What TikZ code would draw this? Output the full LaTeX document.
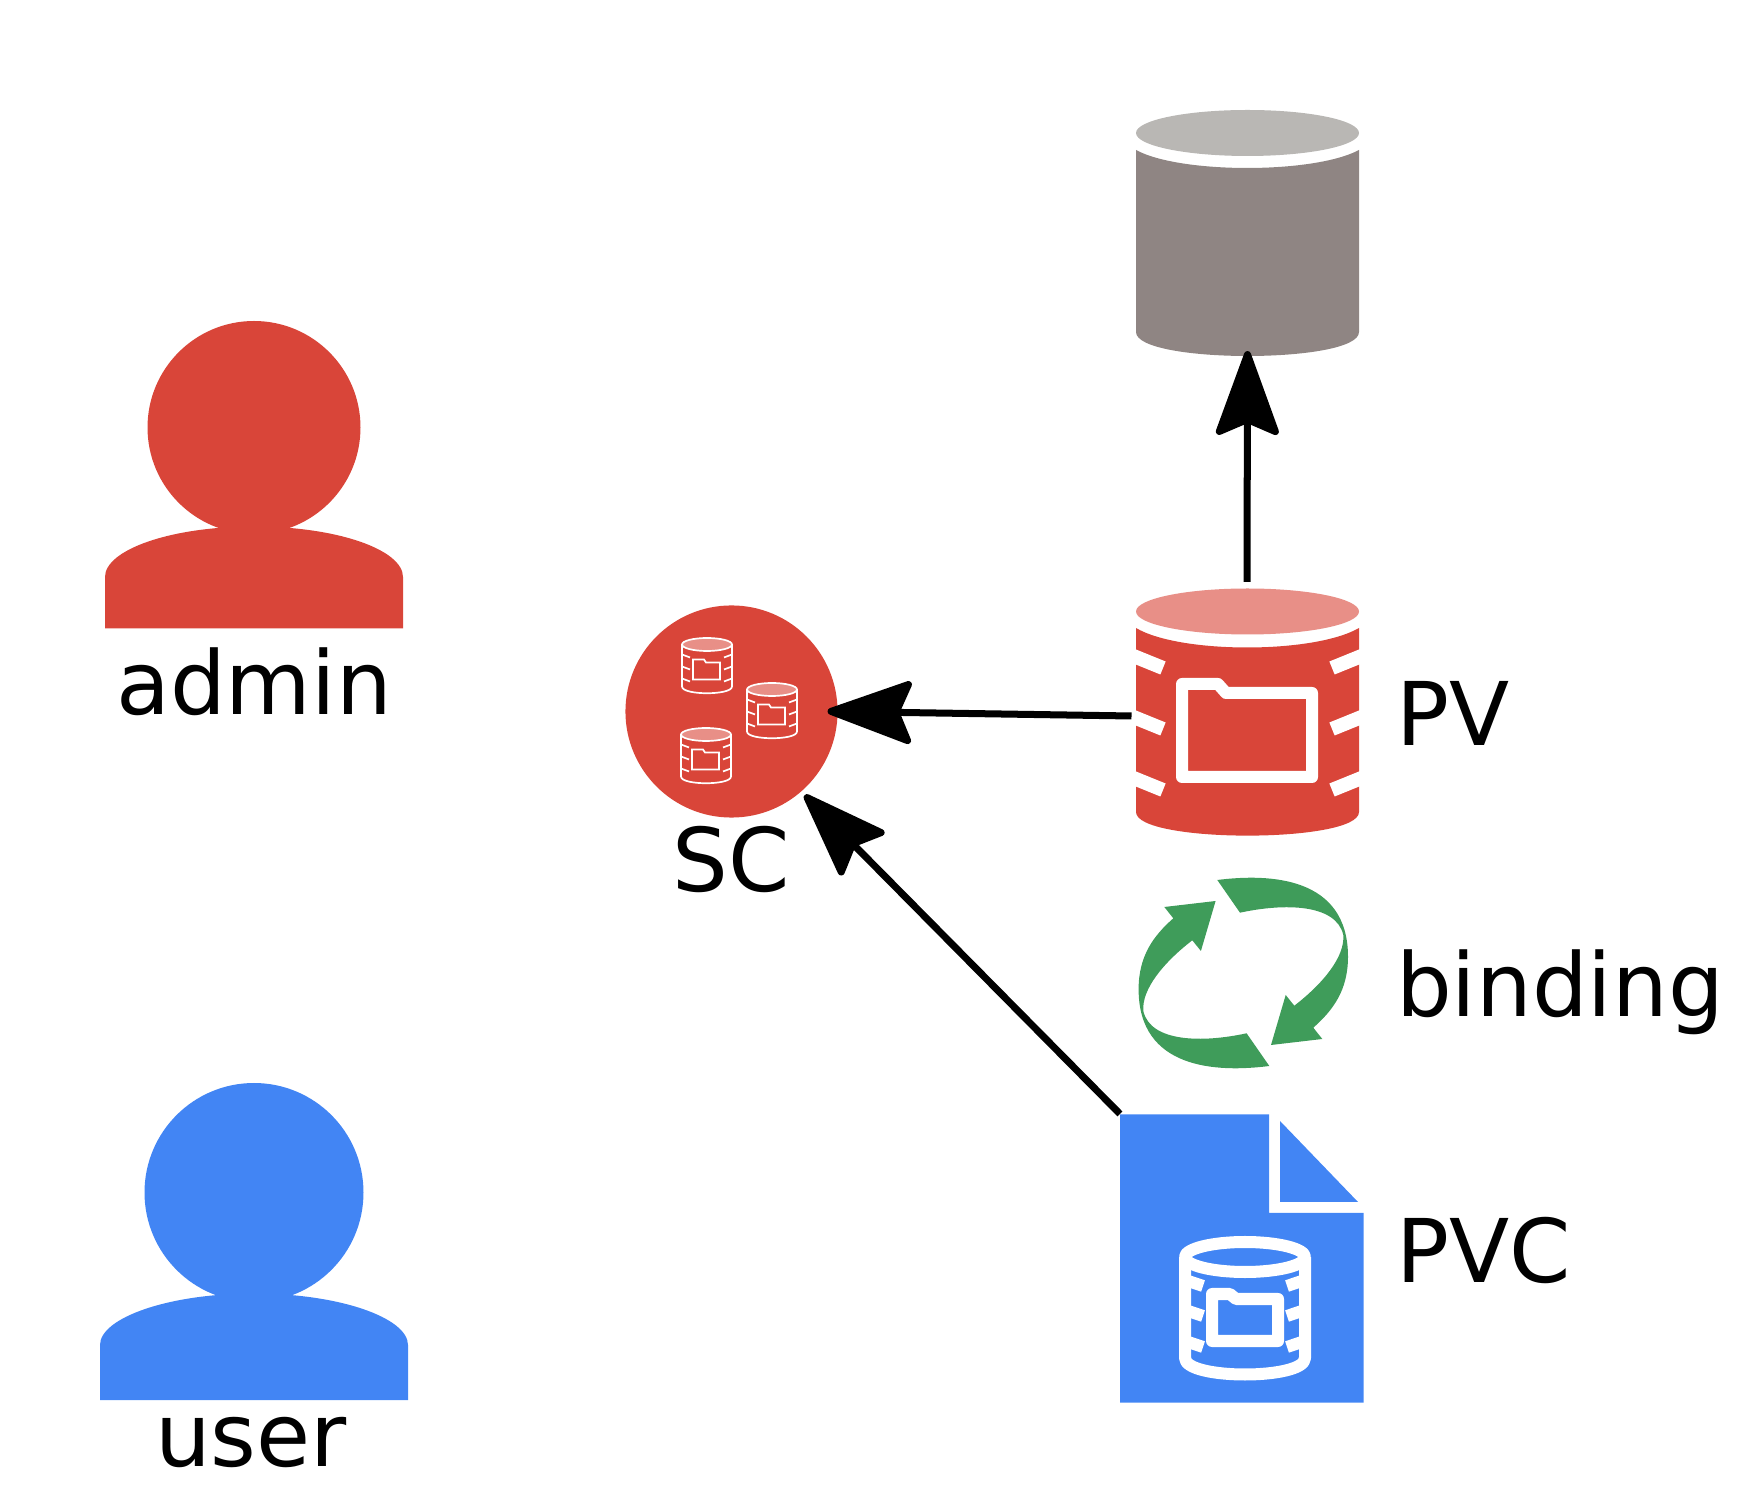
\documentclass[tikz,border=0pt]{standalone}
\usepackage{fontspec}
\setmainfont{DejaVu Sans}
\usepackage{xcolor}
\usetikzlibrary{arrows.meta}
\definecolor{rossoicon}{HTML}{D94539}
\definecolor{rosa}{HTML}{E88F87}
\definecolor{bluicon}{HTML}{4285F4}
\definecolor{verde}{HTML}{3F9C5A}
\definecolor{grigio}{HTML}{8F8583}
\definecolor{grigiochiaro}{HTML}{B9B7B4}
\tikzset{
    etichetta/.style={inner sep=0pt, outer sep=0pt, font=\fontsize{25}{30}\selectfont},
    ingombro/.style={inner sep=0pt, outer sep=0pt, minimum width=#1},
    freccia/.style={line width=0.07cm, -{Stealth[length=0.93cm,width=0.67cm,inset=0.14cm,round]}},
    tacca/.style={white, line width=0.14cm},
    tratto/.style={white, line width=0.12cm, line join=round}
}
\begin{document}
\begin{tikzpicture}[x=0.01cm, y=-0.01cm]
        \useasboundingbox (0,0) rectangle (1748,1510);
        % admin
        \fill[rossoicon] (254,427.5) circle (106.5);
        \fill[rossoicon] (105,628.5) -- (105,577) .. controls (105,550) and (170,526.5) .. (254,526.5) .. controls (338,526.5) and (403,550) .. (403,577) -- (403,628.5) -- cycle;
        \node[etichetta, anchor=base] (admin) at (254,715) {admin};
        % user
        \fill[bluicon] (254,1192.5) circle (109.5);
        \fill[bluicon] (100,1400) -- (100,1345) .. controls (100,1318) and (168,1293.5) .. (254,1293.5) .. controls (340,1293.5) and (408,1318) .. (408,1345) -- (408,1400) -- cycle;
        \node[etichetta, anchor=base] (user) at (251,1466) {user};
        % storage
        \node[ingombro=2.23cm, minimum height=2.46cm] (store) at (1247.5,233) {};
        \fill[grigio] (1136,150) .. controls (1180,174) and (1314,174) .. (1359,150) -- (1359,332) .. controls (1359,364) and (1136,364) .. (1136,332) -- cycle;
        \fill[grigiochiaro] (1247.5,133) ellipse [x radius=111.5, y radius=23];
        % PV
        \node[ingombro=2.22cm, minimum height=2.47cm] (pv) at (1247,711.5) {};
        \fill[rossoicon] (1136,628) .. controls (1180,654) and (1314,654) .. (1359,628) -- (1359,812) .. controls (1359,843.5) and (1136,843.5) .. (1136,812) -- cycle;
        \fill[rosa] (1247.5,611.5) ellipse [x radius=111.5, y radius=23];
        \foreach \ytacca in {657,718,779}
            \draw[tacca] (1130,\ytacca-2.4) -- ++(33,13.4) (1365,\ytacca-2.4) -- ++(-33,13.4);
        \draw[tratto] (1182,684) -- (1218,684) -- (1226,693) -- (1312,693) -- (1312,777) -- (1182,777) -- cycle;
        \node[etichetta, anchor=base west] (pvlabel) at (1396,746) {PV};
        % SC
        \node[circle, fill=rossoicon, inner sep=0pt, outer sep=0pt, minimum size=2.12cm] (sc) at (731.5,711.5) {};
        \foreach \cx/\cy in {707/665.5, 772/710.5, 706/755.5} {
            \begin{scope}[shift={(\cx,\cy)}, white, line width=0.017cm]
                \draw[fill=rosa] (0,-21) ellipse [x radius=25, y radius=6.5];
                \draw (-25,-21) -- (-25,21) .. controls (-25,30) and (25,30) .. (25,21) -- (25,-21);
                \foreach \ytacca in {-11,1,13}
                    \draw (-25,\ytacca) -- ++(8,3) (25,\ytacca) -- ++(-8,3);
                \draw (-14,-6) -- (-3,-6) -- (-1,-3) -- (13,-3) -- (13,14) -- (-14,14) -- cycle;
            \end{scope}
        }
        \node[etichetta, anchor=base] (sclabel) at (731,892) {SC};
        % binding
        \foreach \giro in {0,180}
            \fill[verde, rotate around={\giro:(1243.3,973)}] (1217.3,880) .. controls (1270,873.3) and (1348,876.7) .. (1348,956.7) .. controls (1348,990) and (1333.3,1010) .. (1313.3,1027.7) -- (1322.3,1039) -- (1271,1045) -- (1285.7,995) -- (1294.3,1005.7) .. controls (1323.3,983.3) and (1345,956.7) .. (1343.3,935) .. controls (1336,903.3) and (1283.3,903.3) .. (1240,912.7) -- cycle;
        \node[etichetta, anchor=base west] (bindlabel) at (1396,1017) {binding};
        % PVC
        \node[ingombro=2.43cm, minimum height=2.88cm] (pvc) at (1241.5,1258) {};
        \fill[bluicon] (1120,1114.5) -- (1269,1114.5) -- (1269,1213) -- (1363.5,1213) -- (1363.5,1402.5) -- (1120,1402.5) -- cycle;
        \fill[bluicon] (1280,1121) -- (1280,1202) -- (1358,1202) -- cycle;
        \draw[tratto] (1245,1257) ellipse [x radius=60, y radius=15];
        \draw[tratto] (1185,1257) -- (1185,1358) .. controls (1185,1380) and (1305,1380) .. (1305,1358) -- (1305,1257);
        \foreach \ytacca in {1282,1312,1343}
            \draw[white, line width=0.12cm] (1186,\ytacca-1.7) -- ++(17,5.7) (1304,\ytacca-1.7) -- ++(-17,5.7);
        \draw[tratto] (1212,1294) -- (1230,1294) -- (1236,1299) -- (1278,1299) -- (1278,1341) -- (1212,1341) -- cycle;
        \node[etichetta, anchor=base west] (pvclabel) at (1396,1283) {PVC};
        % frecce
        \draw[freccia, shorten <=0.06cm, shorten >=-0.05cm] (pv.north) -- (store.south);
        \draw[freccia, shorten >=-0.1cm] (1131.5,716) coordinate (pvleft) -- (sc.east);
        \draw[freccia, shorten >=0.05cm] (pvc.north west) -- (sc.-49);
    \end{tikzpicture}
\end{document}
